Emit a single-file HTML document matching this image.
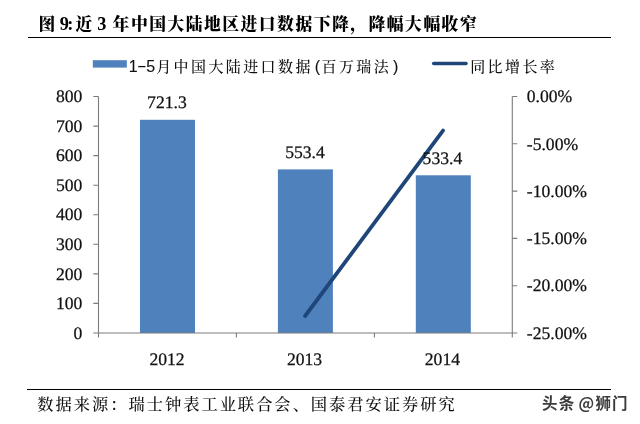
<!DOCTYPE html>
<html lang="zh">
<head>
<meta charset="utf-8">
<title>图 9</title>
<style>
html,body{margin:0;padding:0;background:#fff;}
body{width:640px;height:424px;overflow:hidden;position:relative;}
svg{position:absolute;left:0;top:0;display:block;}
.num{font-family:"Liberation Serif",serif;font-size:17.6px;text-rendering:geometricPrecision;fill:#111;stroke:#111;stroke-width:0.25px;}
.kai{font-family:"Liberation Sans","Noto Serif CJK SC",serif;font-weight:500;fill:#111;text-anchor:middle;}
.lat{font-size:18.3px;font-weight:bold;}
.dg{font-weight:400;font-size:16px;stroke:#111;stroke-width:.12px;}
.title{font-family:"Liberation Serif","Noto Serif CJK SC",serif;font-weight:900;fill:#000;text-anchor:middle;}
.wm{font-family:"Noto Sans CJK SC","Liberation Sans",sans-serif;font-weight:bold;}
</style>
</head>
<body>
<svg width="640" height="424" viewBox="0 0 640 424">
  <rect x="0" y="0" width="640" height="424" fill="#ffffff"/>
  <text class="title" y="30" font-size="16.8" x="46.9 56.5 64.3 70.2 83.9 94.5 101.9 108.5 121.0 139.3 157.6 175.8 194.1 212.4 230.7 249.0 267.2 285.5 303.8 322.1 340.4 358.6 376.9 395.2 413.5 431.8 450.0 468.3">图<tspan class="lat"> 9:</tspan>近<tspan class="lat"> 3 </tspan>年中国大陆地区进口数据下降，降幅大幅收窄</text>
  <rect x="28" y="37" width="583" height="1" fill="#000"/>
  <rect x="92.8" y="60.2" width="34" height="7.4" fill="#4f81bd"/>
  <text class="kai" y="71.5 70.7 71.5 72" font-size="15" x="133.2 141.9 150.6 163.7 181.1 198.5 215.9 233.3 250.7 268.1 285.5 302.9 317.4 329.0 346.4 363.8 381.2 395.7"><tspan class="dg">1<tspan textLength="9.6" lengthAdjust="spacingAndGlyphs">-</tspan>5</tspan>月中国大陆进口数据<tspan class="dg">(</tspan>百万瑞法<tspan class="dg">)</tspan></text>
  <line x1="433.7" y1="63.6" x2="466" y2="63.6" stroke="#1f4679" stroke-width="3.5" stroke-linecap="round"/>
  <text class="kai" y="72" font-size="15" x="477.7 495.1 512.5 529.9 547.3">同比增长率</text>
  <rect x="140.0" y="119.8" width="55.0" height="213.2" fill="#4f81bd"/>
  <rect x="277.9" y="169.4" width="55.0" height="163.6" fill="#4f81bd"/>
  <rect x="415.8" y="175.3" width="55.0" height="157.7" fill="#4f81bd"/>
  <g stroke="#7c7c7c" stroke-width="1.1" fill="none">
    <path d="M98.5 96.5V333.0H512.3V96.5"/>
    <path d="M93.3 333.0H98.5 M93.3 303.4H98.5 M93.3 273.9H98.5 M93.3 244.3H98.5 M93.3 214.8H98.5 M93.3 185.2H98.5 M93.3 155.6H98.5 M93.3 126.1H98.5 M93.3 96.5H98.5"/>
    <path d="M512.3 96.5H517.3 M512.3 143.8H517.3 M512.3 191.1H517.3 M512.3 238.4H517.3 M512.3 285.7H517.3 M512.3 333.0H517.3"/>
    <path d="M98.5 333.0V337.4 M236.4 333.0V337.4 M374.4 333.0V337.4 M512.3 333.0V337.4"/>
  </g>
  <line x1="305.1" y1="316.0" x2="443.0" y2="130.6" stroke="#1f4679" stroke-width="3.8" stroke-linecap="round"/>
  <g class="num" text-anchor="end">
    <text x="82.3" y="102.2">800</text>
    <text x="82.3" y="131.8">700</text>
    <text x="82.3" y="161.3">600</text>
    <text x="82.3" y="190.9">500</text>
    <text x="82.3" y="220.4">400</text>
    <text x="82.3" y="250.0">300</text>
    <text x="82.3" y="279.6">200</text>
    <text x="82.3" y="309.1">100</text>
    <text x="82.3" y="338.7">0</text>
  </g>
  <g class="num">
    <text x="526.8" y="102.2">0.00%</text>
    <text x="526.8" y="149.5">-5.00%</text>
    <text x="526.8" y="196.8">-10.00%</text>
    <text x="526.8" y="244.1">-15.00%</text>
    <text x="526.8" y="291.4">-20.00%</text>
    <text x="526.8" y="338.7">-25.00%</text>
  </g>
  <g class="num" text-anchor="middle">
    <text x="166.9" y="108.2">721.3</text>
    <text x="305" y="158.2">553.4</text>
    <text x="442.4" y="164">533.4</text>
  </g>
  <g class="num" text-anchor="middle">
    <text x="167.0" y="365.2">2012</text>
    <text x="304.5" y="365.2">2013</text>
    <text x="442.4" y="365.2">2014</text>
  </g>
  <rect x="27" y="389" width="584" height="1" fill="#000"/>
  <text class="kai" y="409.8" font-size="16.3" x="45.4 63.6 81.9 100.1 118.4 136.6 154.8 173.1 191.3 209.6 227.8 246.0 264.3 282.5 300.8 319.0 337.2 355.5 373.7 392.0 410.2 428.4 446.7">数据来源：瑞士钟表工业联合会、国泰君安证券研究</text>
  <text class="wm" text-anchor="middle" x="549.8 566.6 576 586.2 603.2 619.7" y="408.8" font-size="15.5" fill="#3c3c3c">头条 @狮门</text>
</svg>
</body>
</html>
